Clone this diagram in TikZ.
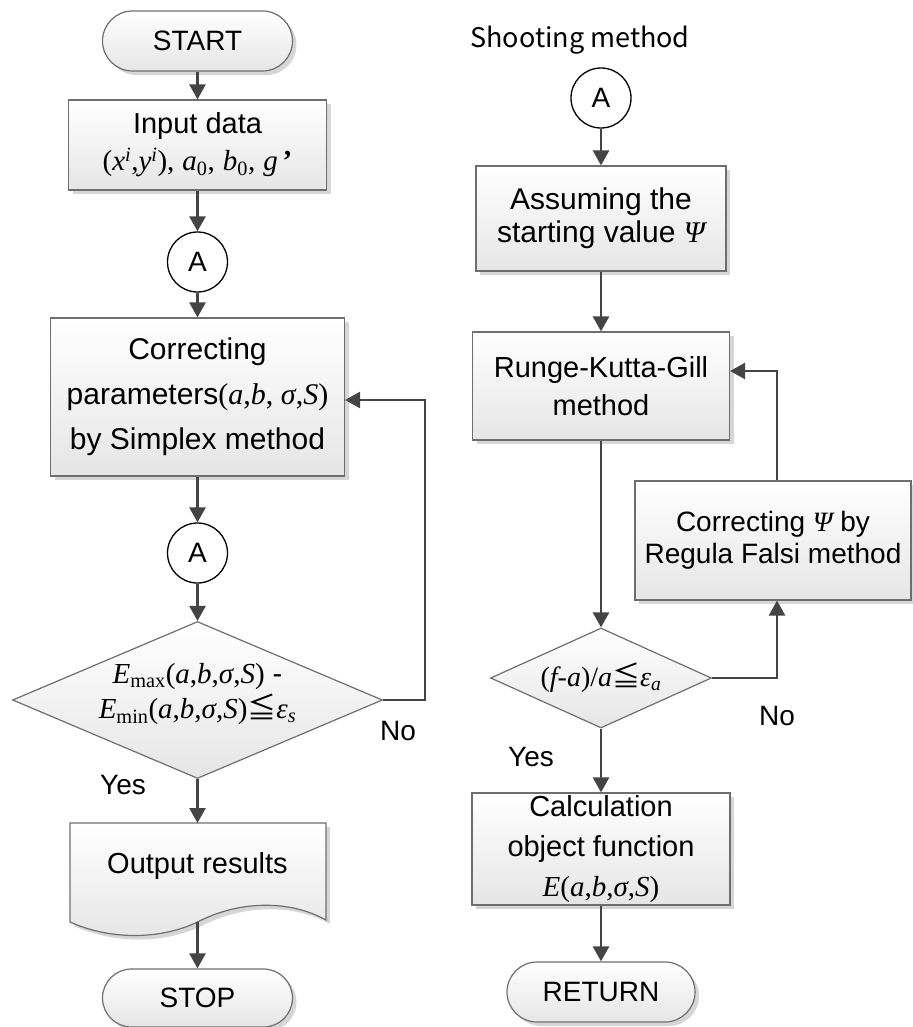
\documentclass[tikz,border=0pt]{standalone}
\usepackage{fontspec}
\setmainfont{Liberation Sans}
\newfontfamily\tms{Liberation Serif}
\newfontfamily\jpf{Noto Sans CJK JP}
\usetikzlibrary{shapes.geometric,shapes.misc,arrows.meta,shadows,calc}
\definecolor{ln}{HTML}{444444}
\definecolor{bd}{HTML}{6E6E6E}
\newcommand\mi[1]{{\tms\itshape #1}}
\newcommand\mr[1]{{\tms #1}}
\newcommand\myleqq{{\jpf ≦}}
\tikzset{
  shd/.style={drop shadow={shadow xshift=4pt,shadow yshift=-4pt,fill=black!16,opacity=1}},
  stepbox/.style={rectangle,draw=bd,line width=1.2pt,top color=white,bottom color=black!10,shd,align=center,inner sep=0pt},
  term/.style={rounded rectangle,draw=bd,line width=1.2pt,top color=white,bottom color=black!10,shd,minimum width=190pt,minimum height=60pt,inner sep=0pt,font=\fontsize{28}{32}\selectfont},
  conn/.style={circle,draw=black,line width=1.3pt,fill=white,minimum size=60pt,inner sep=0pt,font=\fontsize{28}{32}\selectfont},
  decision/.style={diamond,draw=bd,line width=1.2pt,top color=white,bottom color=black!10,inner sep=0pt},
  arr/.style={draw=ln,line width=2.6pt,-{Triangle[length=15pt,width=16pt]}},
  lbl/.style={font=\fontsize{28}{32}\selectfont,inner sep=0pt}
}
\begin{document}
\begin{tikzpicture}[x=1pt,y=-1pt]
\useasboundingbox (0,0) rectangle (912,1027);

% ---------- left column ----------
\node[term] (start) at (197.5,41) {START};
\node[stepbox,minimum width=258pt,minimum height=90pt,font=\fontsize{29}{37}\selectfont] (inp) at (197.5,145)
  {Input data\\ \mr{(}\mi{x}\textsuperscript{\mi{i}}\mr{,}\mi{y}\textsuperscript{\mi{i}}\mr{),} \mi{a}\textsubscript{\mr{0}}\mr{,} \mi{b}\textsubscript{\mr{0}}\mr{,} \mi{g}\,\textbf{\mr{’}}};
\node[conn] (a1) at (197.5,262) {A};
\node[stepbox,minimum width=294pt,minimum height=158pt,font=\fontsize{30}{45}\selectfont] (corr) at (197.5,397)
  {Correcting\\ parameters\mr{(}\mi{a}\mr{,}\mi{b}\mr{, }\mi{σ}\mr{,}\mi{S}\mr{)}\\ by Simplex method};
\node[conn] (a2) at (197.5,553) {A};
\node[decision,minimum width=370pt,minimum height=157pt,
  label={[font=\fontsize{29}{35}\selectfont,align=center,yshift=6pt]center:{\mi{E}\textsubscript{\mr{max}}\mr{(}\mi{a}\mr{,}\mi{b}\mr{,}\mi{σ}\mr{,}\mi{S}\mr{)} -\\ \mi{E}\textsubscript{\mr{min}}\mr{(}\mi{a}\mr{,}\mi{b}\mr{,}\mi{σ}\mr{,}\mi{S}\mr{)}\myleqq\mi{ε}\textsubscript{\mi{s}}}}] (d1) at (197.5,700) {};

% document shape
\begin{scope}[shift={(4,4)}]
\fill[black!16] (70,823) -- (326,823) -- (326,920) .. controls (290,900) and (240,900) .. (197.5,922) .. controls (160,940) and (110,940) .. (70,922) -- cycle;
\end{scope}
\shade[top color=white,bottom color=black!10,draw=bd,line width=1.2pt] (70,823) -- (326,823) -- (326,920) .. controls (290,900) and (240,900) .. (197.5,922) .. controls (160,940) and (110,940) .. (70,922) -- cycle;
\node[lbl,font=\fontsize{29}{32}\selectfont] (out) at (197.5,866) {Output results};
\coordinate (outtop) at (197.5,823);
\coordinate (outbot) at (197.5,922);
\node[term,minimum height=58pt] (stop) at (197.5,998) {STOP};

\node[lbl] (yes1) at (123,785) {Yes};
\node[lbl] (no1) at (398,731) {No};

% ---------- right column ----------
\node[font=\jpf\fontsize{27}{30}\selectfont,inner sep=0pt] (shoot) at (580,40) {Shooting method};
\node[conn] (a3) at (601,98) {A};
\node[stepbox,minimum width=250pt,minimum height=105pt,font=\fontsize{30}{33}\selectfont] (asm) at (601,218.5)
  {Assuming the\\ starting value \mi{Ψ}};
\node[stepbox,minimum width=257pt,minimum height=108pt,font=\fontsize{29}{38}\selectfont] (rkg) at (601,386)
  {Runge-Kutta-Gill\\ method};
\node[stepbox,minimum width=276pt,minimum height=119pt,font=\fontsize{28}{32}\selectfont] (reg) at (773,540.5)
  {Correcting \mi{Ψ} by\\ Regula Falsi method};
\node[decision,minimum width=221pt,minimum height=100pt,
  label={[font=\fontsize{28}{32}\selectfont]center:{\mr{(}\mi{f}\mr{-}\mi{a}\mr{)/}\mi{a}\myleqq\mi{ε}\textsubscript{\mi{a}}}}] (d2) at (601,678) {};
\node[stepbox,minimum width=258pt,minimum height=112pt,font=\fontsize{29}{40}\selectfont] (calc) at (601,849)
  {Calculation\\ object function\\ \mi{E}\mr{(}\mi{a}\mr{,}\mi{b}\mr{,}\mi{σ}\mr{,}\mi{S}\mr{)}};
\node[term,minimum width=188pt] (ret) at (601,992) {RETURN};

\node[lbl] (yes2) at (531,757) {Yes};
\node[lbl] (no2) at (777,716) {No};

% ---------- connectors ----------
\draw[arr] (start.south) -- (inp.north);
\draw[arr] (inp.south) -- (a1.north);
\draw[arr] (a1.south) -- (corr.north);
\draw[arr] (corr.south) -- (a2.north);
\draw[arr] (a2.south) -- (d1.north);
\draw[arr] (d1.east) -- ++(42,0) |- ([yshift=-3pt]corr.east);
\draw[arr] (d1.south) -- (outtop);
\draw[arr] (outbot) -- (stop.north);

\draw[arr] (a3.south) -- (asm.north);
\draw[arr] (asm.south) -- (rkg.north);
\draw[arr] (rkg.south) -- (d2.north);
\draw[arr] (d2.east) -| ([xshift=4pt]reg.south);
\draw[arr] ([xshift=4pt]reg.north) |- ([yshift=15pt]rkg.east);
\draw[arr] (d2.south) -- (calc.north);
\draw[arr] (calc.south) -- (ret.north);
\end{tikzpicture}
\end{document}
